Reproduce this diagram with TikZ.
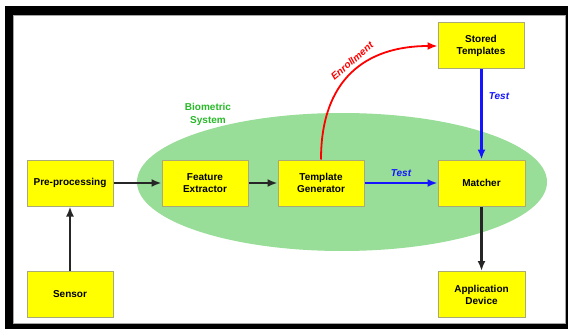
\documentclass[tikz,border=0pt]{standalone}
\usepackage{fontspec}
\setmainfont{Liberation Sans}
\usetikzlibrary{arrows.meta}
\definecolor{boxyellow}{RGB}{255,255,0}
\definecolor{boxedge}{RGB}{170,170,120}
\definecolor{ellgreen}{RGB}{152,221,152}
\definecolor{labgreen}{RGB}{40,185,40}
\definecolor{testblue}{RGB}{20,20,255}
\tikzset{
  blk/.style={draw=boxedge, line width=1pt, fill=boxyellow, minimum width=86pt, minimum height=46pt,
    align=center, font=\fontsize{10}{12}\selectfont\bfseries, inner sep=1pt},
  arr/.style={line width=2.2pt, -{Latex[length=10pt,width=8pt]}},
  lab/.style={font=\fontsize{10}{12}\selectfont\bfseries\itshape},
}
\begin{document}
\begin{tikzpicture}[x=1pt,y=-1pt]
\useasboundingbox (0,0) rectangle (568,329);
\fill[white] (0,0) rectangle (568,329);
\fill[black] (5,6) rectangle (568,329);
\fill[white] (13,15) rectangle (565,323);
\draw[gray!70, line width=0.6pt] (13,15) rectangle (565,323);
% ellipse
\fill[ellgreen] (342,182) ellipse [x radius=205, y radius=69];
\node[align=center, text=labgreen, font=\fontsize{10}{13}\selectfont\bfseries] (bio) at (208,114) {Biometric\\System};
% boxes
\node[blk] (pre) at (70,183) {Pre-processing};
\node[blk] (sen) at (70,294) {Sensor};
\node[blk] (fe) at (205,183) {Feature\\Extractor};
\node[blk] (tg) at (321,183) {Template\\Generator};
\node[blk, minimum width=87pt] (mat) at (481.5,183) {Matcher};
\node[blk, minimum width=87pt] (app) at (481.5,294.5) {Application\\Device};
\node[blk] (st) at (481,46) {Stored\\Templates};
% arrows
\draw[arr, black!85] (sen) -- (pre);
\draw[arr, black!85] (pre) -- (fe);
\draw[arr, black!85] (fe) -- (tg);
\draw[arr, testblue] (tg) -- node[lab, text=testblue, above=2pt] (t1) {Test} (mat);
\draw[arr, testblue] (st.south -| mat.north) -- node[lab, text=testblue, right=3pt, pos=0.3] (t2) {Test} (mat.north);
\draw[arr, black!85] (mat) -- (app);
\draw[arr, red, line width=1.8pt] (tg.north) .. controls (321,80) and (365,46) .. (st.west);
\node[lab, text=red, rotate=41] (enr) at (352,61) {Enrollment};
\end{tikzpicture}
\end{document}
